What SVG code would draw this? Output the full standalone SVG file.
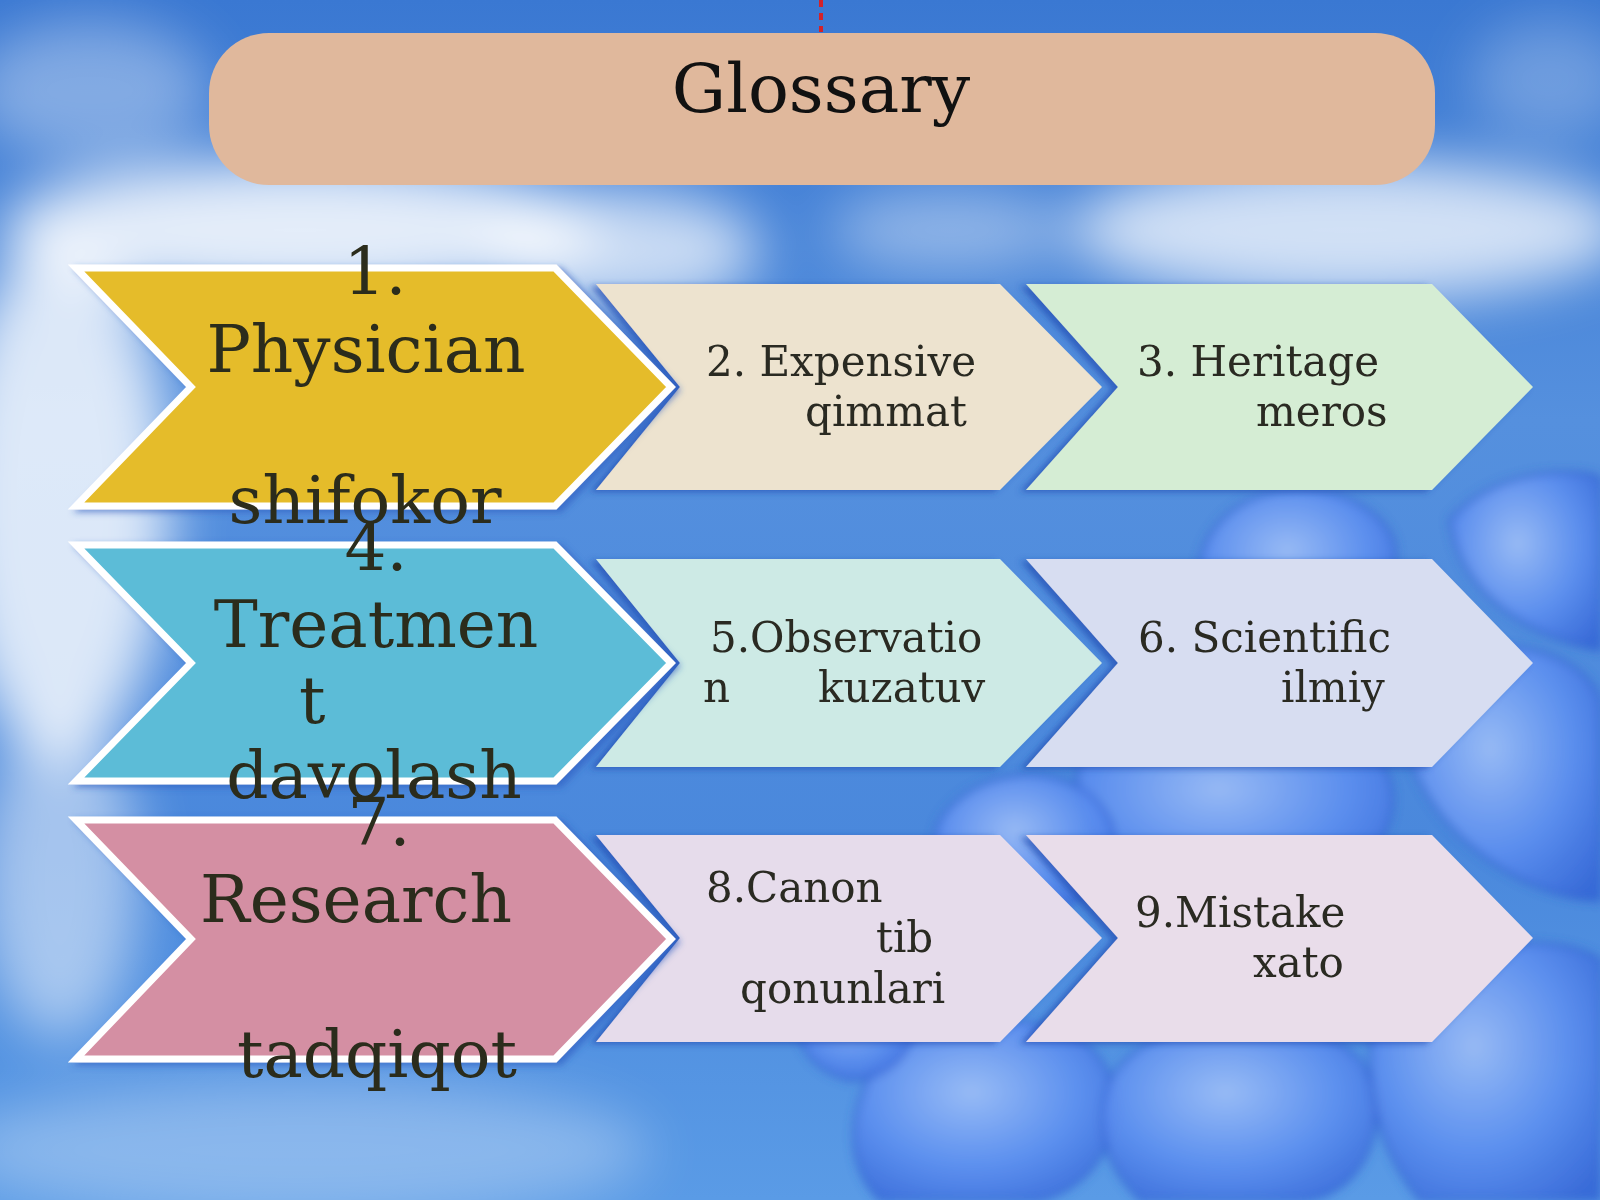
<svg xmlns="http://www.w3.org/2000/svg" width="1600" height="1200" viewBox="0 0 1600 1200">
<defs>
<linearGradient id="sky" x1="0" y1="0" x2="0" y2="1">
<stop offset="0" stop-color="#3a78d2"/>
<stop offset="0.35" stop-color="#5590de"/>
<stop offset="0.7" stop-color="#4a88dc"/>
<stop offset="1" stop-color="#5a9be6"/>
</linearGradient>
<radialGradient id="petal" cx="0.45" cy="0.4" r="0.75">
<stop offset="0" stop-color="#9fbff6"/>
<stop offset="0.55" stop-color="#5d8ff0"/>
<stop offset="1" stop-color="#3566d6"/>
</radialGradient>
<filter id="blur" x="-50%" y="-50%" width="200%" height="200%"><feGaussianBlur stdDeviation="28"/></filter>
<filter id="soft" x="-20%" y="-20%" width="140%" height="140%"><feGaussianBlur stdDeviation="5"/></filter>
<filter id="shL" x="-10%" y="-10%" width="120%" height="120%"><feDropShadow dx="-6" dy="2" stdDeviation="3" flood-color="#2150b4" flood-opacity="0.7"/></filter>
<filter id="shR" x="-10%" y="-10%" width="120%" height="120%"><feDropShadow dx="5" dy="3" stdDeviation="3" flood-color="#2a5cc0" flood-opacity="0.6"/></filter>
<style>
.big{stroke:#ffffff;stroke-width:7;stroke-linejoin:miter;filter:url(#shR)}
.sm{filter:url(#shL)}
.tb{font-family:"DejaVu Serif","Liberation Serif",serif;font-size:66px;fill:#2b2c1c}
.ts{font-family:"DejaVu Serif","Liberation Serif",serif;font-size:42px;fill:#2a2a22}
.mid{text-anchor:middle}
.pt{fill:url(#petal);stroke:#2f5fd0;stroke-width:3;opacity:0.9}
</style>
</defs>
<g id="background">
<rect x="0" y="0" width="1600" height="1200" fill="url(#sky)"/>
<g filter="url(#blur)" fill="#ffffff">
<ellipse cx="90" cy="90" rx="120" ry="70" opacity="0.35"/>
<ellipse cx="300" cy="230" rx="300" ry="70" opacity="0.85"/>
<ellipse cx="620" cy="250" rx="140" ry="60" opacity="0.7"/>
<ellipse cx="1350" cy="230" rx="280" ry="70" opacity="0.75"/>
<ellipse cx="950" cy="230" rx="120" ry="40" opacity="0.4"/>
<ellipse cx="60" cy="500" rx="110" ry="260" opacity="0.8"/>
<ellipse cx="60" cy="880" rx="80" ry="160" opacity="0.5"/>
<ellipse cx="300" cy="1150" rx="350" ry="70" opacity="0.3"/>
<ellipse cx="1550" cy="80" rx="80" ry="60" opacity="0.25"/>
</g>
<g filter="url(#soft)">
<path class="pt" d="M1200,560 C1220,480 1330,470 1380,520 C1420,560 1380,620 1300,640 C1230,650 1190,610 1200,560 Z"/>
<path class="pt" d="M1450,520 C1500,460 1600,470 1600,480 L1600,650 C1540,640 1460,600 1450,520 Z"/>
<path class="pt" d="M1080,760 C1150,700 1300,700 1380,760 C1420,820 1360,900 1250,900 C1150,900 1060,840 1080,760 Z"/>
<path class="pt" d="M1400,700 C1450,620 1580,640 1600,700 L1600,900 C1520,900 1400,820 1400,700 Z"/>
<path class="pt" d="M940,820 C980,760 1080,760 1110,820 C1130,880 1070,920 1010,910 C950,900 920,870 940,820 Z"/>
<path class="pt" d="M860,1100 C880,1020 1000,1000 1080,1040 C1140,1080 1120,1180 1040,1200 L880,1200 C850,1170 850,1130 860,1100 Z"/>
<path class="pt" d="M1110,1080 C1150,1010 1300,1000 1360,1060 C1400,1120 1360,1200 1300,1200 L1140,1200 C1100,1160 1095,1120 1110,1080 Z"/>
<path class="pt" d="M1380,1000 C1430,940 1560,930 1600,960 L1600,1200 L1420,1200 C1370,1140 1360,1060 1380,1000 Z"/>
<path class="pt" d="M800,1000 C820,960 880,950 910,990 C930,1030 900,1080 850,1080 C810,1070 790,1040 800,1000 Z"/>
</g>
</g>
<g id="header">
<line x1="821" y1="0" x2="821" y2="32" stroke="#d3222a" stroke-width="4" stroke-dasharray="7 6"/>
<rect x="209" y="33" width="1226" height="152" rx="60" ry="60" fill="#e0b89c"/>
<text x="821" y="112" text-anchor="middle" font-family="'DejaVu Serif','Liberation Serif',serif" font-size="68" fill="#111111">Glossary</text>
</g>
<g id="connectors"></g>
<g id="node2"><path class="sm" d="M596,284 L1000,284 L1102,387 L1000,490 L596,490 L680,387 Z" fill="#ede3cf"/>
<text class="ts" x="706" y="376">2. Expensive</text><text class="ts" x="805" y="426">qimmat</text></g>
<g id="node3"><path class="sm" d="M1026,284 L1432,284 L1533,387 L1432,490 L1026,490 L1118,387 Z" fill="#d5edd4"/>
<text class="ts" x="1137" y="376">3. Heritage</text><text class="ts" x="1256" y="426">meros</text></g>
<g id="node5"><path class="sm" d="M596,559 L1000,559 L1102,663 L1000,767 L596,767 L680,663 Z" fill="#cdeae5"/>
<text class="ts" x="710" y="652">5.Observatio</text><text class="ts" x="703" y="702">n</text><text class="ts" x="818" y="702">kuzatuv</text></g>
<g id="node6"><path class="sm" d="M1026,559 L1432,559 L1533,663 L1432,767 L1026,767 L1118,663 Z" fill="#d7ddf1"/>
<text class="ts" x="1138" y="652">6. Scientific</text><text class="ts" x="1281" y="702">ilmiy</text></g>
<g id="node8"><path class="sm" d="M596,835 L1000,835 L1102,938 L1000,1042 L596,1042 L680,938 Z" fill="#e6dceb"/>
<text class="ts" x="706" y="902">8.Canon</text><text class="ts" x="876" y="952">tib</text><text class="ts" x="740" y="1003">qonunlari</text></g>
<g id="node9"><path class="sm" d="M1026,835 L1432,835 L1533,938 L1432,1042 L1026,1042 L1118,938 Z" fill="#e9ddea"/>
<text class="ts" x="1135" y="927">9.Mistake</text><text class="ts" x="1253" y="977">xato</text></g>
<g id="node1"><path class="big" d="M76,268 L555,268 L671,387 L555,506 L76,506 L191,387 Z" fill="#e5bc2a"/>
<text class="tb mid" x="375" y="294">1.</text><text class="tb mid" x="366" y="372">Physician</text><text class="tb mid" x="365" y="523">shifokor</text></g>
<g id="node4"><path class="big" d="M76,545 L555,545 L671,663 L555,781 L76,781 L191,663 Z" fill="#5bbcd7"/>
<text class="tb mid" x="376" y="570">4.</text><text class="tb mid" x="376" y="647">Treatmen</text><text class="tb" x="299" y="723">t</text><text class="tb mid" x="374" y="798">davolash</text></g>
<g id="node7"><path class="big" d="M76,820 L555,820 L671,939 L555,1059 L76,1059 L191,939 Z" fill="#d48fa3"/>
<text class="tb mid" x="379" y="845">7.</text><text class="tb mid" x="356" y="922">Research</text><text class="tb mid" x="377" y="1077">tadqiqot</text></g>
</svg>
